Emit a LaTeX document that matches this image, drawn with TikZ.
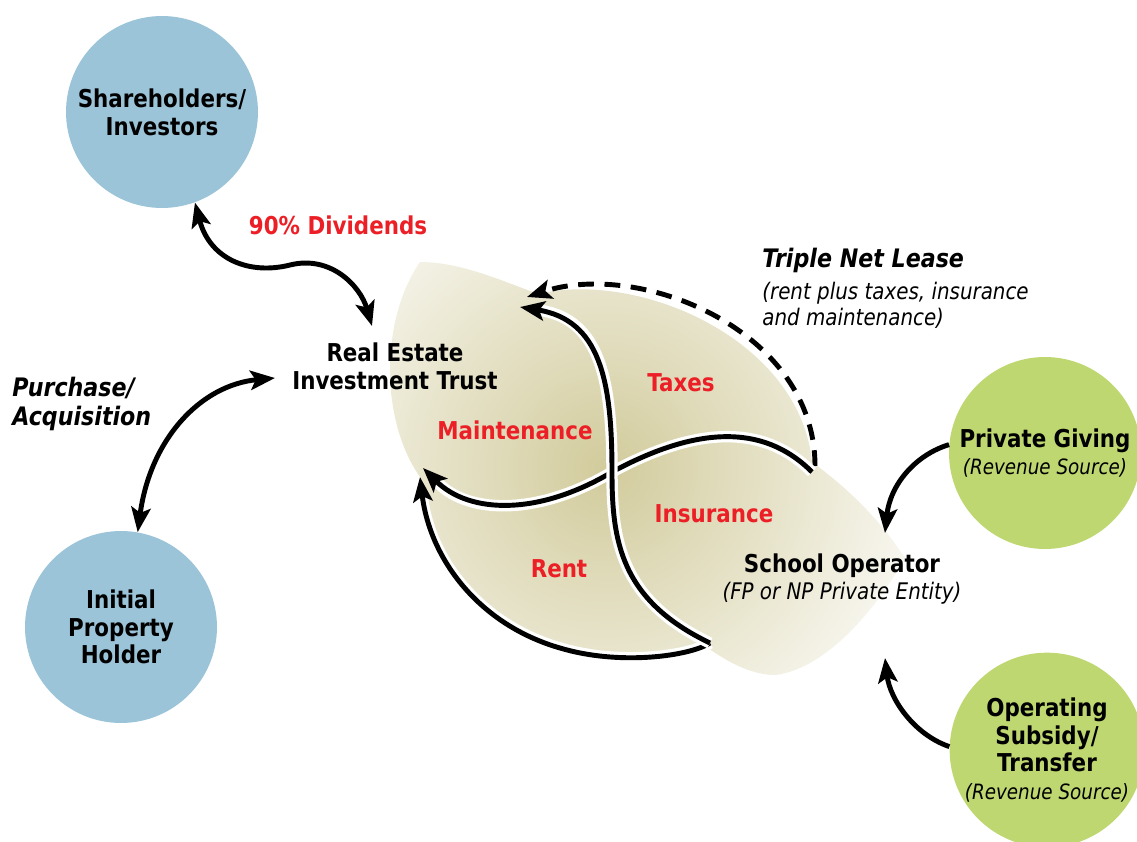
\documentclass[tikz,border=0pt]{standalone}
\usepackage{fontspec}
\setmainfont{DejaVu Sans}[FakeStretch=0.87]
\usetikzlibrary{positioning, arrows.meta}

\definecolor{shareblue}{RGB}{155,196,216}
\definecolor{givegreen}{RGB}{190,215,112}
\definecolor{flowred}{RGB}{236,30,38}
\definecolor{leaftan}{RGB}{210,203,156}

\tikzset{
  tip/.tip={Stealth[length=14pt,width=11pt,inset=3pt]},
  party/.style={circle, minimum size=3.84cm, inner sep=0pt, align=center,
    font=\fontsize{14}{15.8}\selectfont\bfseries},
  bluebub/.style={party, fill=shareblue},
  greenbub/.style={party, fill=givegreen},
  boldlbl/.style={inner sep=0pt, align=center, font=\fontsize{14}{15.8}\selectfont\bfseries},
  flowlbl/.style={boldlbl, text=flowred},
  notelbl/.style={inner sep=0pt, align=left, font=\fontsize{13}{14.8}\selectfont\itshape},
  link/.style={line width=2.8pt},
  flow/.style={link, -tip, preaction={draw=white, line width=6.5pt, -, shorten >=12pt}}
}

\begin{document}
\begin{tikzpicture}[x=0.02cm, y=-0.02cm]
  \useasboundingbox (0,0) rectangle (1137,842);

  % shaded leaves
  \begin{scope}
    \clip (420,262) .. controls (460,262) and (500,280) .. (538,294)
      .. controls (640,270) and (800,340) .. (812,462)
      .. controls (850,490) and (880,520) .. (905,558)
      .. controls (870,620) and (820,670) .. (775,675)
      .. controls (750,675) and (725,660) .. (708,648)
      .. controls (690,662) and (610,665) .. (560,645)
      .. controls (480,625) and (430,560) .. (420,477)
      .. controls (380,420) and (380,320) .. (420,262) -- cycle;
    \shade[inner color=leaftan, outer color=white] (605,468) circle (375);
  \end{scope}

  % parties
  \node[bluebub] (sh) at (162,112) {Shareholders/\\Investors};
  \node[bluebub] (ip) at (121,627) {Initial\\Property\\Holder};
  \node[greenbub] (pg) at (1045,453) {Private Giving\\{\fontsize{12}{14}\selectfont\mdseries\itshape (Revenue Source)}};
  \node[greenbub] (os) at (1047,750) {Operating\\Subsidy/\\Transfer\\{\fontsize{12}{14}\selectfont\mdseries\itshape (Revenue Source)}};

  \node[boldlbl] (reit) at (395,366) {Real Estate\\Investment Trust};
  \node[boldlbl] (so) at (842,579) {School Operator\\{\fontsize{13}{15}\selectfont\mdseries\itshape (FP or NP Private Entity)}};

  \node[flowlbl] (div) at (338,225) {90\% Dividends};
  \node[boldlbl, align=left, anchor=west, font=\fontsize{14.5}{16}\selectfont\bfseries\itshape] (buy) at (12,404) {Purchase/\\Acquisition};
  \node[boldlbl, anchor=west, font=\fontsize{14.5}{16}\selectfont\bfseries\itshape] (lease) at (762,260) {Triple Net Lease};
  \node[notelbl, below right=5pt and 0pt of lease.south west] (leasenote) {(rent plus taxes, insurance\\and maintenance)};

  \node[flowlbl] (tax) at (681,383) {Taxes};
  \node[flowlbl] (mnt) at (515,430) {Maintenance};
  \node[flowlbl] (ins) at (714,514) {Insurance};
  \node[flowlbl] (rent) at (559,569) {Rent};

  % connector ends
  \coordinate (reit-div) at (372,326);
  \coordinate (reit-buy) at (275,378);
  \coordinate (so-gift) at (885,533);
  \coordinate (so-aid) at (885,658);
  \coordinate (hub) at (612,472);
  \coordinate (lease-src) at (815,466);
  \coordinate (lease-dst) at (527,297);
  \coordinate (mnt-src) at (710,643);
  \coordinate (mnt-dst) at (520,307);
  \coordinate (ins-src) at (812,472);
  \coordinate (ins-dst) at (423,468);
  \coordinate (rent-dst) at (420,477);

  % side arrows
  \draw[link, tip-tip] (sh.-70) .. controls (210,260) and (250,275) .. (290,265)
    .. controls (330,255) and (360,285) .. (reit-div);
  \draw[link, tip-tip] (reit-buy) .. controls (200,385) and (150,440) .. (ip.80);
  \draw[link, -tip] (pg.175) .. controls (915,455) and (890,485) .. (so-gift);
  \draw[link, -tip] (os.178) .. controls (915,735) and (890,700) .. (so-aid);

  % lease flows
  \draw[link, -tip, dash pattern=on 9pt off 6pt] (lease-src) .. controls (815,330) and (640,260) .. (lease-dst);
  \draw[flow] (mnt-src) .. controls (690,656) and (620,666) .. (560,648)
    .. controls (480,625) and (430,560) .. (rent-dst);
  \draw[flow] (ins-src) .. controls (760,420) and (690,430) .. (hub)
    .. controls (540,515) and (470,515) .. (ins-dst);
  \draw[flow] (mnt-src) .. controls (620,600) and (612,540) .. (hub)
    .. controls (612,380) and (600,320) .. (mnt-dst);
\end{tikzpicture}
\end{document}
